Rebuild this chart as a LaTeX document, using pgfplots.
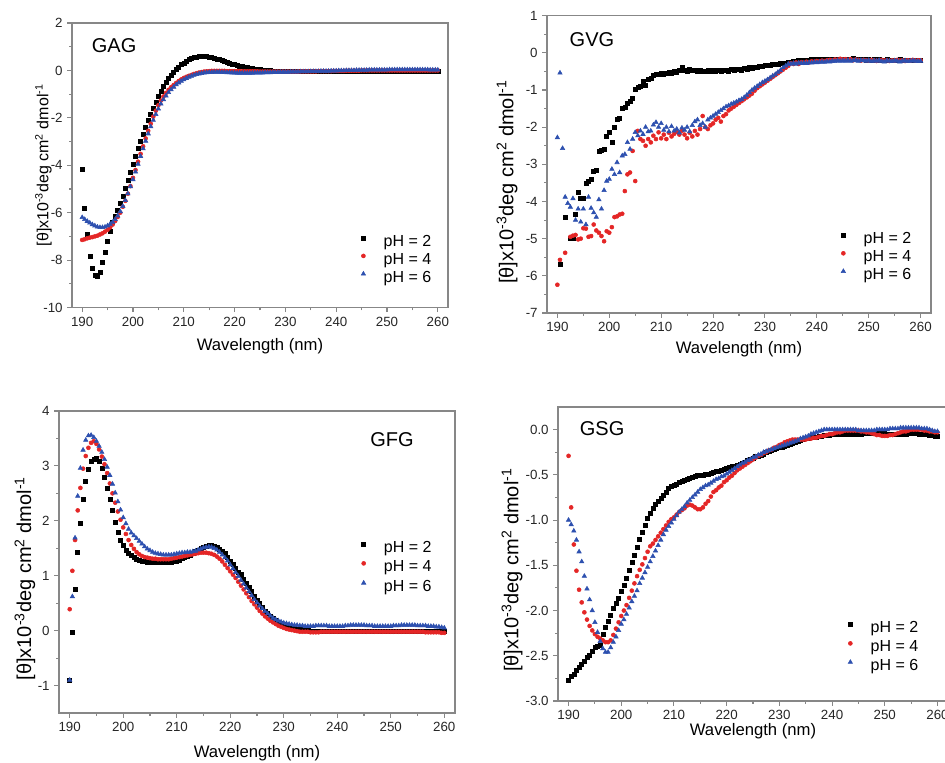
\documentclass[border=0pt]{standalone}
\usepackage{fontspec}
\setmainfont{Liberation Sans}
\usepackage{pgfplots}
\usepackage{pgfplotstable}
\pgfplotsset{compat=1.18}
\definecolor{cdred}{RGB}{228,38,38}
\definecolor{cdblue}{RGB}{45,80,175}
\definecolor{framecol}{RGB}{135,135,135}

\pgfplotstableread{
x a b c
190 -4.15 -7.15 -6.20
190.5 -5.80 -7.12 -6.28
191 -6.90 -7.08 -6.36
191.5 -7.85 -7.05 -6.43
192 -8.35 -7.03 -6.50
192.5 -8.62 -7.00 -6.55
193 -8.70 -6.97 -6.60
193.5 -8.50 -6.92 -6.62
194 -8.10 -6.87 -6.62
194.5 -7.65 -6.80 -6.60
195 -7.20 -6.72 -6.55
195.5 -6.80 -6.62 -6.48
196 -6.40 -6.50 -6.40
196.5 -6.15 -6.35 -6.28
197 -5.90 -6.18 -6.13
197.5 -5.60 -6.00 -5.95
198 -5.30 -5.75 -5.73
198.5 -4.98 -5.50 -5.48
199 -4.65 -5.20 -5.20
199.5 -4.30 -4.88 -4.90
200 -3.95 -4.53 -4.60
200.5 -3.60 -4.20 -4.28
201 -3.30 -3.85 -3.95
201.5 -3.00 -3.52 -3.62
202 -2.70 -3.20 -3.30
202.5 -2.40 -2.87 -2.98
203 -2.10 -2.55 -2.67
203.5 -1.85 -2.25 -2.37
204 -1.58 -1.95 -2.10
204.5 -1.33 -1.70 -1.85
205 -1.10 -1.47 -1.62
205.5 -0.88 -1.27 -1.41
206 -0.67 -1.10 -1.23
206.5 -0.50 -0.95 -1.07
207 -0.34 -0.82 -0.93
207.5 -0.20 -0.71 -0.81
208 -0.06 -0.62 -0.70
208.5 0.05 -0.53 -0.60
209 0.15 -0.45 -0.52
209.5 0.24 -0.38 -0.45
210 0.32 -0.32 -0.39
210.5 0.39 -0.27 -0.33
211 0.45 -0.23 -0.28
211.5 0.50 -0.19 -0.24
212 0.54 -0.15 -0.20
212.5 0.57 -0.12 -0.17
213 0.59 -0.09 -0.14
213.5 0.60 -0.07 -0.12
214 0.60 -0.05 -0.10
214.5 0.59 -0.04 -0.09
215 0.57 -0.03 -0.08
215.5 0.55 -0.02 -0.08
216 0.52 -0.02 -0.07
216.5 0.49 -0.02 -0.07
217 0.46 -0.02 -0.07
217.5 0.42 -0.02 -0.08
218 0.39 -0.02 -0.08
218.5 0.35 -0.03 -0.09
219 0.32 -0.03 -0.09
219.5 0.28 -0.03 -0.10
220 0.25 -0.03 -0.10
220.5 0.22 -0.03 -0.11
221 0.19 -0.03 -0.11
221.5 0.16 -0.04 -0.11
222 0.14 -0.04 -0.11
222.5 0.12 -0.04 -0.11
223 0.10 -0.04 -0.11
223.5 0.08 -0.04 -0.11
224 0.06 -0.04 -0.10
224.5 0.05 -0.04 -0.10
225 0.03 -0.05 -0.10
225.5 0.02 -0.05 -0.10
226 0.01 -0.05 -0.09
226.5 0.00 -0.05 -0.09
227 -0.01 -0.05 -0.09
227.5 -0.02 -0.05 -0.08
228 -0.03 -0.05 -0.08
228.5 -0.04 -0.05 -0.08
229 -0.04 -0.05 -0.07
229.5 -0.05 -0.05 -0.07
230 -0.05 -0.05 -0.07
230.5 -0.05 -0.05 -0.07
231 -0.05 -0.05 -0.06
231.5 -0.05 -0.05 -0.06
232 -0.05 -0.05 -0.06
232.5 -0.05 -0.05 -0.06
233 -0.05 -0.04 -0.05
233.5 -0.05 -0.04 -0.05
234 -0.05 -0.04 -0.05
234.5 -0.05 -0.04 -0.05
235 -0.05 -0.04 -0.04
235.5 -0.05 -0.04 -0.04
236 -0.05 -0.04 -0.04
236.5 -0.05 -0.03 -0.04
237 -0.05 -0.03 -0.03
237.5 -0.05 -0.03 -0.03
238 -0.05 -0.03 -0.03
238.5 -0.04 -0.03 -0.03
239 -0.04 -0.03 -0.02
239.5 -0.04 -0.02 -0.02
240 -0.04 -0.02 -0.02
240.5 -0.04 -0.02 -0.01
241 -0.04 -0.02 -0.01
241.5 -0.04 -0.02 -0.01
242 -0.04 -0.01 0.00
242.5 -0.04 -0.01 0.00
243 -0.04 -0.01 0.00
243.5 -0.03 -0.01 0.00
244 -0.03 -0.01 0.01
244.5 -0.03 -0.01 0.01
245 -0.03 0.00 0.01
245.5 -0.03 0.00 0.01
246 -0.03 0.00 0.01
246.5 -0.03 0.00 0.02
247 -0.03 0.00 0.02
247.5 -0.02 0.00 0.02
248 -0.02 0.00 0.02
248.5 -0.02 0.00 0.02
249 -0.02 0.00 0.02
249.5 -0.02 0.00 0.02
250 -0.02 0.00 0.02
250.5 -0.02 0.00 0.03
251 -0.02 0.00 0.03
251.5 -0.02 0.00 0.03
252 -0.02 0.00 0.03
252.5 -0.02 0.00 0.03
253 -0.02 0.00 0.03
253.5 -0.02 0.00 0.03
254 -0.02 0.00 0.03
254.5 -0.02 0.00 0.03
255 -0.02 0.00 0.03
255.5 -0.02 0.00 0.03
256 -0.02 0.00 0.03
256.5 -0.02 0.00 0.03
257 -0.02 0.00 0.03
257.5 -0.02 0.00 0.03
258 -0.02 0.00 0.03
258.5 -0.02 0.00 0.02
259 -0.02 0.00 0.02
259.5 -0.02 0.00 0.02
260 -0.02 0.00 0.02
}\gag

\pgfplotstableread{
x a b c
190 nan -6.24 -2.28
190.5 -5.70 -5.57 -0.54
191 nan nan -2.57
191.5 -4.42 -5.38 -3.88
192 nan nan -4.05
192.5 -5.00 -4.95 -4.15
193 -5.00 -4.92 -3.92
193.5 -4.35 -4.90 -4.50
194 -3.75 -5.02 -4.20
194.5 -3.90 -5.00 -4.55
195 -3.92 -4.72 -4.20
195.5 -3.50 -4.73 -4.62
196 -3.45 -4.95 -3.88
196.5 -3.40 -4.93 -4.18
197 -3.20 -4.62 -4.30
197.5 -3.15 -4.78 -4.42
198 -2.65 -4.84 -3.95
198.5 -2.62 -4.93 -4.20
199 -2.60 -5.07 -3.70
199.5 -2.25 -4.80 -3.45
200 -2.15 -4.84 -3.40
200.5 -2.40 -4.69 -3.13
201 -2.00 -4.42 -3.27
201.5 -1.78 -4.40 -2.95
202 -1.75 -4.35 -3.22
202.5 -1.50 -4.33 -2.77
203 -1.47 -3.72 -2.73
203.5 -1.35 -3.27 -2.41
204 -1.30 -3.22 -2.59
204.5 -1.22 -2.64 -2.32
205 -0.98 -3.45 -2.14
205.5 -0.93 -2.10 -2.23
206 -0.90 -2.32 -2.10
206.5 -0.76 -2.37 -2.19
207 -0.88 -2.50 -2.00
207.5 -0.70 -2.32 -2.12
208 -0.68 -2.41 -2.10
208.5 -0.60 -2.23 -1.94
209 -0.57 -2.32 -1.87
209.5 -0.58 -2.14 -2.00
210 -0.55 -2.30 -1.90
210.5 -0.57 -2.20 -2.08
211 -0.55 -2.32 -2.00
211.5 -0.52 -2.15 -2.12
212 -0.56 -2.25 -1.98
212.5 -0.50 -2.18 -2.10
213 -0.53 -2.12 -2.05
213.5 -0.48 -2.20 -2.15
214 -0.40 -2.10 -2.02
214.5 -0.47 -2.20 -2.08
215 -0.50 -2.30 -2.00
215.5 -0.45 -2.15 -2.12
216 -0.48 -2.25 -1.95
216.5 -0.46 -2.10 -1.85
217 -0.50 -2.20 -1.80
217.5 -0.47 -2.05 -1.95
218 -0.49 -1.70 -1.90
218.5 -0.50 -2.00 -2.00
219 -0.47 -2.05 -1.80
219.5 -0.50 -1.95 -1.75
220 -0.48 -1.90 -1.70
220.5 -0.50 -1.80 -1.65
221 -0.47 -1.75 -1.60
221.5 -0.50 -1.85 -1.55
222 -0.48 -1.70 -1.50
222.5 -0.46 -1.65 -1.45
223 -0.49 -1.55 -1.42
223.5 -0.45 -1.50 -1.38
224 -0.47 -1.45 -1.35
224.5 -0.44 -1.40 -1.32
225 -0.43 -1.35 -1.28
225.5 -0.46 -1.30 -1.25
226 -0.42 -1.25 -1.20
226.5 -0.44 -1.20 -1.14
227 -0.40 -1.15 -1.07
227.5 -0.41 -1.10 -1.00
228 -0.38 -1.02 -0.95
228.5 -0.39 -0.95 -0.90
229 -0.36 -0.90 -0.85
229.5 -0.37 -0.85 -0.80
230 -0.34 -0.80 -0.76
230.5 -0.33 -0.75 -0.72
231 -0.33 -0.70 -0.67
231.5 -0.31 -0.65 -0.62
232 -0.30 -0.60 -0.58
232.5 -0.31 -0.55 -0.52
233 -0.29 -0.50 -0.47
233.5 -0.28 -0.45 -0.40
234 -0.27 -0.40 -0.35
234.5 -0.25 -0.35 -0.30
235 -0.25 -0.28 -0.30
235.5 -0.22 -0.30 -0.28
236 -0.23 -0.26 -0.30
236.5 -0.21 -0.30 -0.27
237 -0.20 -0.25 -0.28
237.5 -0.21 -0.27 -0.27
238 -0.19 -0.24 -0.28
238.5 -0.20 -0.26 -0.26
239 -0.18 -0.23 -0.27
239.5 -0.18 -0.24 -0.25
240 -0.20 -0.22 -0.26
240.5 -0.18 -0.23 -0.25
241 -0.19 -0.21 -0.24
241.5 -0.17 -0.22 -0.25
242 -0.18 -0.20 -0.23
242.5 -0.17 -0.19 -0.24
243 -0.18 -0.20 -0.22
243.5 -0.17 -0.18 -0.23
244 -0.18 -0.19 -0.21
244.5 -0.17 -0.16 -0.22
245 -0.18 -0.18 -0.21
245.5 -0.17 -0.17 -0.22
246 -0.18 -0.19 -0.20
246.5 -0.16 -0.17 -0.22
247 -0.15 -0.20 -0.21
247.5 -0.17 -0.18 -0.20
248 -0.18 -0.19 -0.22
248.5 -0.17 -0.21 -0.20
249 -0.18 -0.19 -0.21
249.5 -0.19 -0.20 -0.22
250 -0.18 -0.21 -0.20
250.5 -0.19 -0.19 -0.23
251 -0.18 -0.20 -0.21
251.5 -0.19 -0.22 -0.22
252 -0.18 -0.20 -0.20
252.5 -0.20 -0.19 -0.23
253 -0.19 -0.21 -0.24
253.5 -0.18 -0.20 -0.21
254 -0.20 -0.22 -0.22
254.5 -0.19 -0.20 -0.23
255 -0.20 -0.21 -0.21
255.5 -0.19 -0.19 -0.22
256 -0.18 -0.21 -0.24
256.5 -0.20 -0.20 -0.22
257 -0.19 -0.22 -0.21
257.5 -0.20 -0.20 -0.23
258 -0.19 -0.21 -0.22
258.5 -0.20 -0.19 -0.21
259 -0.19 -0.21 -0.22
259.5 -0.20 -0.20 -0.23
260 -0.20 -0.20 -0.22
}\gvg

\pgfplotstableread{
x a b c
190 -0.90 0.39 -0.90
190.5 -0.03 1.09 0.62
191 0.76 1.65 1.69
191.5 1.42 2.19 2.45
192 1.95 2.60 2.96
192.5 2.39 2.95 3.29
193 2.72 3.18 3.47
193.5 2.94 3.33 3.55
194 3.08 3.42 3.56
194.5 3.13 3.45 3.52
195 3.14 3.40 3.45
195.5 3.08 3.30 3.36
196 2.96 3.17 3.25
196.5 2.80 3.03 3.12
197 2.60 2.87 2.98
197.5 2.40 2.68 2.83
198 2.20 2.50 2.67
198.5 1.98 2.33 2.51
199 1.80 2.17 2.35
199.5 1.65 2.02 2.20
200 1.55 1.88 2.06
200.5 1.47 1.76 1.95
201 1.41 1.65 1.85
201.5 1.37 1.56 1.78
202 1.33 1.49 1.73
202.5 1.30 1.43 1.68
203 1.28 1.39 1.63
203.5 1.27 1.36 1.58
204 1.26 1.34 1.53
204.5 1.25 1.33 1.49
205 1.25 1.32 1.46
205.5 1.24 1.31 1.43
206 1.24 1.31 1.41
206.5 1.24 1.30 1.40
207 1.24 1.30 1.39
207.5 1.24 1.30 1.38
208 1.24 1.30 1.38
208.5 1.24 1.30 1.38
209 1.25 1.31 1.38
209.5 1.26 1.32 1.39
210 1.27 1.33 1.40
210.5 1.29 1.34 1.41
211 1.31 1.35 1.42
211.5 1.33 1.36 1.42
212 1.35 1.37 1.43
212.5 1.38 1.38 1.43
213 1.41 1.39 1.44
213.5 1.44 1.40 1.45
214 1.47 1.41 1.47
214.5 1.50 1.42 1.49
215 1.52 1.42 1.51
215.5 1.54 1.42 1.52
216 1.55 1.41 1.53
216.5 1.55 1.40 1.52
217 1.54 1.38 1.50
217.5 1.52 1.35 1.47
218 1.49 1.31 1.43
218.5 1.45 1.26 1.38
219 1.40 1.20 1.33
219.5 1.34 1.14 1.27
220 1.27 1.08 1.20
220.5 1.20 1.02 1.13
221 1.13 0.96 1.06
221.5 1.06 0.89 0.99
222 1.02 0.82 0.92
222.5 0.94 0.75 0.85
223 0.87 0.68 0.78
223.5 0.79 0.61 0.71
224 0.71 0.54 0.64
224.5 0.63 0.48 0.57
225 0.56 0.42 0.51
225.5 0.49 0.36 0.45
226 0.42 0.31 0.40
226.5 0.36 0.26 0.35
227 0.31 0.22 0.31
227.5 0.26 0.18 0.27
228 0.22 0.15 0.23
228.5 0.19 0.12 0.20
229 0.16 0.09 0.18
229.5 0.13 0.07 0.16
230 0.11 0.05 0.14
230.5 0.09 0.03 0.13
231 0.07 0.02 0.12
231.5 0.05 0.01 0.11
232 0.04 0.00 0.10
232.5 0.03 -0.01 0.10
233 0.02 -0.02 0.09
233.5 0.01 -0.02 0.09
234 0.00 -0.02 0.08
234.5 0.00 -0.02 0.08
235 -0.01 -0.03 0.08
235.5 -0.01 -0.03 0.08
236 -0.01 -0.03 0.09
236.5 -0.01 -0.03 0.09
237 -0.01 -0.02 0.09
237.5 -0.01 -0.02 0.09
238 -0.02 -0.02 0.09
238.5 -0.02 -0.02 0.08
239 -0.02 -0.02 0.08
239.5 -0.02 -0.02 0.08
240 -0.02 -0.02 0.08
240.5 -0.02 -0.02 0.08
241 -0.02 -0.02 0.08
241.5 -0.02 -0.02 0.09
242 -0.02 -0.02 0.09
242.5 -0.02 -0.02 0.10
243 -0.02 -0.02 0.10
243.5 -0.01 -0.02 0.10
244 -0.01 -0.02 0.10
244.5 -0.01 -0.02 0.10
245 -0.01 -0.02 0.10
245.5 -0.01 -0.02 0.09
246 -0.01 -0.02 0.09
246.5 -0.01 -0.02 0.09
247 -0.01 -0.02 0.08
247.5 -0.01 -0.02 0.08
248 -0.01 -0.02 0.08
248.5 -0.01 -0.02 0.08
249 -0.01 -0.02 0.08
249.5 -0.01 -0.02 0.08
250 -0.01 -0.02 0.08
250.5 -0.01 -0.02 0.09
251 -0.01 -0.02 0.09
251.5 -0.01 -0.02 0.09
252 -0.01 -0.02 0.10
252.5 -0.01 -0.02 0.10
253 -0.02 -0.02 0.10
253.5 -0.02 -0.02 0.10
254 -0.02 -0.02 0.10
254.5 -0.02 -0.02 0.10
255 -0.02 -0.02 0.09
255.5 -0.02 -0.02 0.09
256 -0.02 -0.02 0.09
256.5 -0.02 -0.03 0.09
257 -0.02 -0.03 0.08
257.5 -0.02 -0.03 0.08
258 -0.02 -0.03 0.08
258.5 -0.02 -0.03 0.07
259 -0.02 -0.03 0.07
259.5 -0.02 -0.04 0.06
260 -0.02 -0.04 0.05
}\gfg

\pgfplotstableread{
x a b c
190 -2.77 -0.29 -1.00
190.5 -2.73 -0.86 -1.05
191 -2.70 -1.27 -1.12
191.5 -2.66 -1.56 -1.22
192 -2.63 -1.77 -1.35
192.5 -2.59 -1.91 -1.46
193 -2.56 -2.02 -1.62
193.5 -2.52 -2.10 -1.76
194 -2.49 -2.17 -1.88
194.5 -2.45 -2.22 -2.00
195 -2.41 -2.26 -2.13
195.5 -2.40 -2.29 -2.24
196 -2.38 -2.31 -2.34
196.5 -2.26 -2.33 -2.42
197 -2.19 -2.35 -2.46
197.5 -2.12 -2.35 -2.46
198 -2.05 -2.33 -2.41
198.5 -1.98 -2.27 -2.35
199 -1.92 -2.20 -2.29
199.5 -1.86 -2.13 -2.22
200 -1.79 -2.06 -2.15
200.5 -1.72 -2.00 -2.10
201 -1.64 -1.94 -2.04
201.5 -1.55 -1.86 -1.97
202 -1.47 -1.78 -1.90
202.5 -1.39 -1.70 -1.84
203 -1.30 -1.62 -1.78
203.5 -1.21 -1.55 -1.70
204 -1.13 -1.49 -1.64
204.5 -1.06 -1.42 -1.58
205 -0.98 -1.35 -1.52
205.5 -0.92 -1.29 -1.46
206 -0.87 -1.26 -1.40
206.5 -0.83 -1.22 -1.34
207 -0.79 -1.18 -1.28
207.5 -0.76 -1.14 -1.22
208 -0.73 -1.10 -1.16
208.5 -0.69 -1.06 -1.11
209 -0.65 -1.02 -1.07
209.5 -0.63 -0.99 -1.03
210 -0.61 -0.97 -0.99
210.5 -0.60 -0.94 -0.95
211 -0.58 -0.91 -0.91
211.5 -0.57 -0.89 -0.88
212 -0.56 -0.87 -0.85
212.5 -0.55 -0.84 -0.81
213 -0.54 -0.83 -0.78
213.5 -0.53 -0.84 -0.75
214 -0.52 -0.86 -0.72
214.5 -0.51 -0.88 -0.69
215 -0.50 -0.88 -0.66
215.5 -0.50 -0.86 -0.64
216 -0.49 -0.82 -0.62
216.5 -0.49 -0.79 -0.61
217 -0.48 -0.74 -0.59
217.5 -0.47 -0.69 -0.57
218 -0.46 -0.67 -0.55
218.5 -0.46 -0.64 -0.54
219 -0.45 -0.62 -0.52
219.5 -0.44 -0.58 -0.51
220 -0.43 -0.56 -0.49
220.5 -0.42 -0.53 -0.47
221 -0.41 -0.51 -0.45
221.5 -0.40 -0.48 -0.43
222 -0.39 -0.45 -0.41
222.5 -0.38 -0.43 -0.39
223 -0.37 -0.41 -0.37
223.5 -0.36 -0.39 -0.36
224 -0.34 -0.37 -0.34
224.5 -0.33 -0.35 -0.33
225 -0.32 -0.33 -0.31
225.5 -0.30 -0.31 -0.30
226 -0.29 -0.29 -0.28
226.5 -0.28 -0.28 -0.27
227 -0.27 -0.26 -0.25
227.5 -0.25 -0.25 -0.24
228 -0.24 -0.23 -0.23
228.5 -0.23 -0.22 -0.22
229 -0.22 -0.20 -0.21
229.5 -0.21 -0.19 -0.20
230 -0.20 -0.17 -0.19
230.5 -0.19 -0.16 -0.18
231 -0.18 -0.14 -0.17
231.5 -0.17 -0.13 -0.16
232 -0.16 -0.12 -0.15
232.5 -0.15 -0.11 -0.14
233 -0.14 -0.11 -0.13
233.5 -0.13 -0.11 -0.12
234 -0.12 -0.11 -0.10
234.5 -0.11 -0.11 -0.09
235 -0.10 -0.11 -0.08
235.5 -0.10 -0.10 -0.07
236 -0.09 -0.10 -0.05
236.5 -0.08 -0.09 -0.04
237 -0.08 -0.09 -0.03
237.5 -0.07 -0.08 -0.02
238 -0.07 -0.07 -0.01
238.5 -0.06 -0.07 0.00
239 -0.06 -0.06 0.00
239.5 -0.06 -0.05 0.00
240 -0.05 -0.05 0.00
240.5 -0.05 -0.04 0.00
241 -0.05 -0.03 0.00
241.5 -0.05 -0.03 0.00
242 -0.05 -0.02 0.00
242.5 -0.05 -0.01 0.00
243 -0.05 -0.01 0.00
243.5 -0.05 -0.01 0.00
244 -0.05 -0.01 0.00
244.5 -0.05 -0.01 0.00
245 -0.05 -0.01 -0.01
245.5 -0.05 -0.02 -0.01
246 -0.04 -0.02 -0.01
246.5 -0.04 -0.03 -0.01
247 -0.04 -0.03 -0.01
247.5 -0.04 -0.04 -0.01
248 -0.04 -0.05 -0.01
248.5 -0.04 -0.06 0.00
249 -0.04 -0.06 0.00
249.5 -0.04 -0.07 0.00
250 -0.04 -0.07 0.00
250.5 -0.05 -0.07 0.00
251 -0.05 -0.06 0.01
251.5 -0.05 -0.06 0.01
252 -0.05 -0.05 0.01
252.5 -0.05 -0.04 0.01
253 -0.05 -0.03 0.02
253.5 -0.05 -0.02 0.02
254 -0.05 -0.02 0.02
254.5 -0.04 -0.01 0.02
255 -0.04 0.00 0.02
255.5 -0.04 0.00 0.02
256 -0.04 0.00 0.02
256.5 -0.05 0.00 0.02
257 -0.05 0.00 0.01
257.5 -0.05 -0.01 0.01
258 -0.05 -0.01 0.01
258.5 -0.06 -0.02 0.00
259 -0.06 -0.02 -0.01
259.5 -0.07 -0.03 -0.02
260 -0.07 -0.03 -0.02
}\gsg

\pgfplotsset{
  cd/.style={
    scale only axis, anchor=south west,
    xmin=188, xmax=262, xtick={190,200,...,260},
    minor x tick num=1, minor y tick num=1,
    axis line style={draw=framecol, line width=0.9pt},
    every tick/.style={draw=framecol, line width=0.8pt},
    major tick length=3.5pt, minor tick length=2.2pt,
    tick align=outside, xtick pos=left, ytick pos=left,
    tick label style={font=\fontsize{10}{12}\selectfont, text=black!85},
    /pgf/number format/assume math mode=true,
    xlabel={Wavelength (nm)},
    xlabel style={font=\fontsize{12.5}{15}\selectfont, anchor=center},
    ylabel={[θ]x10\textsuperscript{-3}deg cm\textsuperscript{2} dmol\textsuperscript{-1}},
    ylabel style={anchor=center},
    legend cell align=left,
    legend style={draw=none, fill=none, anchor=west, inner sep=0pt,
      font=\fontsize{12}{14}\selectfont, column sep=11pt,
      nodes={inner sep=1pt, text height=8.5pt, text depth=3pt}},
    legend image code/.code={\path (-3pt,0pt) (3pt,0pt); \draw[##1] plot coordinates {(0pt,3.5pt)};},
  },
  s2/.style={only marks, mark=square*, mark size=1.5pt, draw=black, fill=black},
  s4/.style={only marks, mark=*, mark size=1.5pt, draw=cdred, fill=cdred},
  s6/.style={only marks, mark=triangle*, mark size=1.9pt, draw=cdblue, fill=cdblue},
}

\begin{document}
\begin{tikzpicture}
\path[use as bounding box] (0,0) rectangle (708.75pt,572.25pt);

% GAG
\begin{axis}[cd, at={(54pt,341.6pt)}, width=282pt, height=213.4pt,
  ymin=-10, ymax=2, ytick={-10,-8,...,2},
  xlabel style={at={(axis description cs:0.5,-0.135)}},
  ylabel style={at={(axis description cs:-0.076,0.5)}, font=\fontsize{12}{14}\selectfont},
  legend style={at={(axis description cs:0.763,0.165)}}]
\addplot[s2] table[x=x,y=a]{\gag};
\addplot[s4] table[x=x,y=b]{\gag};
\addplot[s6] table[x=x,y=c]{\gag};
\legend{pH = 2, pH = 4, pH = 6}
\node[font=\fontsize{15}{18}\selectfont] at (axis description cs:0.112,0.919) {GAG};
\end{axis}

% GVG
\begin{axis}[cd, at={(410.25pt,337.5pt)}, width=288pt, height=223pt,
  ymin=-7, ymax=1, ytick={-7,-6,...,1},
  xlabel style={at={(axis description cs:0.5,-0.123)}},
  ylabel style={at={(axis description cs:-0.104,0.44)}, font=\fontsize{15}{17}\selectfont},
  legend style={at={(axis description cs:0.760,0.185)}}]
\addplot[s2] table[x=x,y=a]{\gvg};
\addplot[s4] table[x=x,y=b]{\gvg};
\addplot[s6] table[x=x,y=c]{\gvg};
\legend{pH = 2, pH = 4, pH = 6}
\node[font=\fontsize{15}{18}\selectfont] at (axis description cs:0.117,0.921) {GVG};
\end{axis}

% GFG
\begin{axis}[cd, at={(44.25pt,37.5pt)}, width=297pt, height=226.5pt,
  ymin=-1.5, ymax=4, ytick={-1,0,...,4},
  xlabel style={at={(axis description cs:0.5,-0.132)}},
  ylabel style={at={(axis description cs:-0.086,0.445)}, font=\fontsize{15}{17}\selectfont},
  legend style={at={(axis description cs:0.758,0.480)}, row sep=1.2pt}]
\addplot[s2] table[x=x,y=a]{\gfg};
\addplot[s4] table[x=x,y=b]{\gfg};
\addplot[s6] table[x=x,y=c]{\gfg};
\legend{pH = 2, pH = 4, pH = 6}
\node[font=\fontsize{15}{18}\selectfont] at (axis description cs:0.841,0.906) {GFG};
\end{axis}

% GSG
\begin{axis}[cd, at={(418.5pt,46.5pt)}, width=292.5pt, height=220.5pt,
  ymin=-3, ymax=0.25, ytick={-3,-2.5,...,0},
  yticklabel style={/pgf/number format/.cd, fixed, fixed zerofill, precision=1},
  xlabel style={at={(axis description cs:0.5,-0.102)}},
  ylabel style={at={(axis description cs:-0.118,0.445)}, font=\fontsize{15}{17}\selectfont},
  legend style={at={(axis description cs:0.738,0.180)}, row sep=0.6pt}]
\addplot[s2] table[x=x,y=a]{\gsg};
\addplot[s4] table[x=x,y=b]{\gsg};
\addplot[s6] table[x=x,y=c]{\gsg};
\legend{pH = 2, pH = 4, pH = 6}
\node[font=\fontsize{15}{18}\selectfont] at (axis description cs:0.113,0.927) {GSG};
\end{axis}
\end{tikzpicture}
\end{document}
